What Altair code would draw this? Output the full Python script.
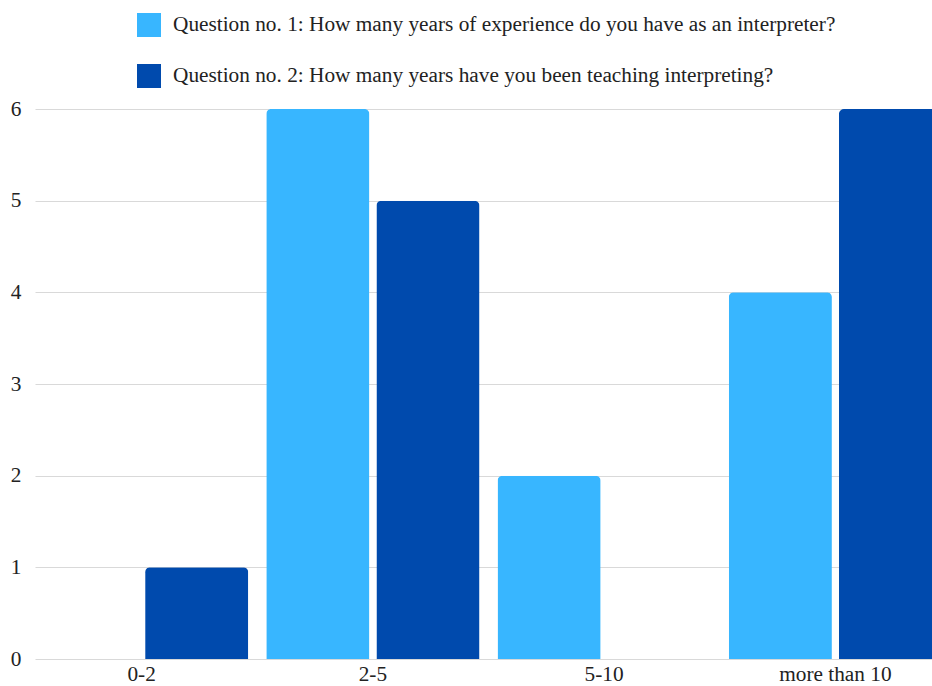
import altair as alt
import pandas as pd

categories = ["0-2", "2-5", "5-10", "more than 10"]
series = [
    "Question no. 1: How many years of experience do you have as an interpreter?",
    "Question no. 2: How many years have you been teaching interpreting?",
]
q1_values = [0, 6, 2, 4]
q2_values = [1, 5, 0, 6]
colors = ["#38B6FF", "#004AAD"]

rows = []
for cat, v1, v2 in zip(categories, q1_values, q2_values):
    rows.append({"bucket": cat, "question": series[0], "count": v1})
    rows.append({"bucket": cat, "question": series[1], "count": v2})
df = pd.DataFrame(rows)

FONT = "'Liberation Serif', 'Times New Roman', Times, serif"
SIZE = 21.3

bars = alt.Chart(df).mark_bar(
    cornerRadiusTopLeft=5, cornerRadiusTopRight=5
).encode(
    x=alt.X(
        "bucket:N",
        sort=categories,
        title=None,
        scale=alt.Scale(range=[0, 907], paddingInner=0.078, paddingOuter=0),
        axis=alt.Axis(
            labelAngle=0, labelFontSize=SIZE, labelColor="#222",
            ticks=False, tickSize=0, domain=False, labelPadding=4,
        ),
    ),
    xOffset=alt.XOffset(
        "question:N", sort=series, scale=alt.Scale(paddingInner=0.0636, paddingOuter=0)
    ),
    y=alt.Y(
        "count:Q",
        title=None,
        scale=alt.Scale(domain=[0, 6], nice=False),
        axis=alt.Axis(
            values=[0, 1, 2, 3, 4, 5, 6], labelFontSize=SIZE,
            labelColor="#222", ticks=False, tickSize=0, domain=False,
            labelPadding=14, gridColor="#d9d9d9", gridWidth=1,
        ),
    ),
    color=alt.Color(
        "question:N",
        sort=series,
        scale=alt.Scale(domain=series, range=colors),
        legend=alt.Legend(
            title=None, orient="none", legendX=102, legendY=-96,
            symbolType="square", symbolSize=576, symbolStrokeWidth=0,
            symbolOpacity=1, labelFontSize=SIZE,
            labelColor="#222", labelOffset=12, rowPadding=27, labelLimit=900,
        ),
    ),
)

chart = bars.properties(
    width=896,
    height=550,
    autosize=alt.AutoSizeParams(type="none"),
    padding={"left": 35, "top": 109, "right": 1, "bottom": 27},
    background="white",
).configure(font=FONT).configure_view(stroke=None)

chart.save("out.html", embed_options={"renderer": "svg", "actions": False})
